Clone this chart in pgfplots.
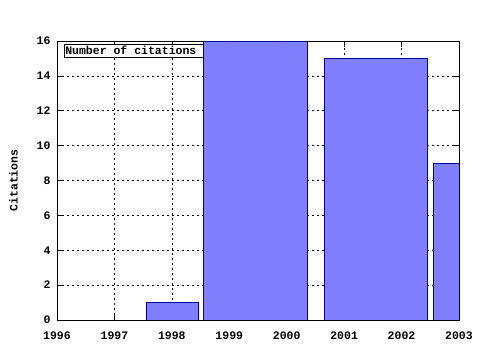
\documentclass[border=0pt]{standalone}
\usepackage{pgfplots}
\pgfplotsset{compat=1.18}
\usepackage{fontspec}
\setmainfont{Liberation Mono}
\definecolor{barfill}{HTML}{8080FF}
\definecolor{baredge}{HTML}{0000A0}
\begin{document}
\begin{tikzpicture}
\useasboundingbox (0pt,0pt) rectangle (480pt,350pt);
\begin{axis}[
  at={(57pt,30pt)}, anchor=south west,
  scale only axis, width=402pt, height=279pt,
  xmin=1996, xmax=2003, ymin=0, ymax=16,
  xtick={1996,...,2003}, ytick={0,2,...,16},
  minor x tick num=3,
  tick align=inside,
  major tick length=6pt, minor tick length=3pt,
  grid=major,
  major grid style={black, line width=0.5pt, dash pattern=on 2pt off 3pt},
  axis line style={black, line width=0.8pt},
  every tick/.style={black, line width=0.6pt},
  /pgf/number format/1000 sep={},
  /pgf/number format/assume math mode=true,
  tick label style={font=\fontsize{11.5}{12}\selectfont\bfseries},
  xticklabel style={yshift=-8pt},
  yticklabel style={xshift=-3pt},
  ylabel={\fontsize{11.5}{12}\selectfont\bfseries Citations},
  ylabel style={at={(axis description cs:-0.089,0.5)}, anchor=south, rotate=0},
  clip=true,
]
\node[draw=black, line width=0.8pt, fill=white, anchor=north west, inner sep=1pt,
  minimum width=150pt, minimum height=13pt, text depth=0pt, align=left]
  at (axis cs:1996.12,15.85)
  {\makebox[148pt][l]{\fontsize{11.5}{12}\selectfont\bfseries Number of citations}};
\addplot[fill=barfill, draw=baredge, line width=0.8pt] coordinates {(1997.55,0) (1997.55,1) (1998.46,1) (1998.46,0)} -- cycle;
\addplot[fill=barfill, draw=baredge, line width=0.8pt] coordinates {(1998.55,0) (1998.55,16) (2000.36,16) (2000.36,0)} -- cycle;
\addplot[fill=barfill, draw=baredge, line width=0.8pt] coordinates {(2000.65,0) (2000.65,15) (2002.45,15) (2002.45,0)} -- cycle;
\addplot[fill=barfill, draw=baredge, line width=0.8pt] coordinates {(2002.55,0) (2002.55,9) (2003.4,9) (2003.4,0)} -- cycle;
\end{axis}
\end{tikzpicture}
\end{document}
